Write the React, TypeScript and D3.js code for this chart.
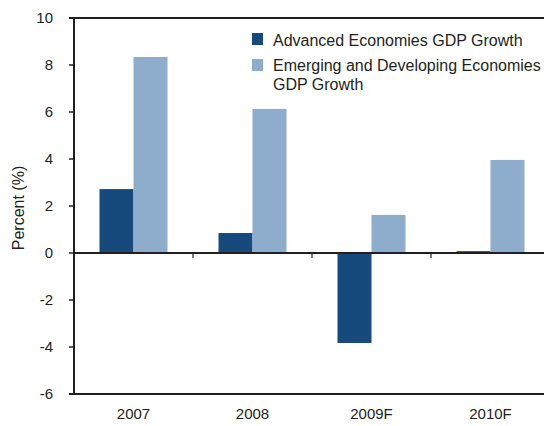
import React from "react";
import * as d3 from "d3";

const categories = ["2007", "2008", "2009F", "2010F"];
const advanced = [2.72, 0.85, -3.83, 0.08];
const emerging = [8.34, 6.13, 1.62, 3.96];
const yTicks = [10, 8, 6, 4, 2, 0, -2, -4, -6];
const seriesNames = ["Advanced Economies GDP Growth", "Emerging and Developing Economies", "GDP Growth"];

const W = 544, H = 426;
const left = 74, right = 550, top = 18, bottom = 394;
const dark = "#174A7C", light = "#8EACCB", ink = "#231F20";

export default function App() {
  const x = d3.scaleBand().domain(categories).range([left, right]);
  const y = d3.scaleLinear().domain([-6, 10]).range([bottom, top]);
  const barW = 34;
  const font = "Liberation Sans, Arial, Helvetica, sans-serif";
  return (
    <svg width={W} height={H} style={{ position: "absolute", left: 0, top: 0 }} fontFamily={font}>
      <rect width={W} height={H} fill="#fff" />
      {categories.map((c, i) => {
        const cx = (x(c) as number) + x.bandwidth() / 2;
        const a = advanced[i], e = emerging[i];
        return (
          <g key={c}>
            <rect x={cx - barW} y={Math.min(y(a), y(0))} width={barW} height={Math.abs(y(a) - y(0))} fill={dark} />
            <rect x={cx} y={Math.min(y(e), y(0))} width={barW} height={Math.abs(y(e) - y(0))} fill={light} />
            <text x={cx} y={419} textAnchor="middle" fontSize={15} fill={ink}>{c}</text>
          </g>
        );
      })}
      <line x1={left} x2={W} y1={y(0)} y2={y(0)} stroke={ink} strokeWidth={2} />
      {categories.slice(1).map((c) => (
        <line key={c} x1={x(c) as number} x2={x(c) as number} y1={y(0)} y2={y(0) + 5} stroke={ink} strokeWidth={1.2} />
      ))}
      <line x1={69} x2={W} y1={top} y2={top} stroke={ink} strokeWidth={2} />
      <line x1={69} x2={W} y1={bottom} y2={bottom} stroke={ink} strokeWidth={2} />
      <line x1={left} x2={left} y1={top} y2={bottom} stroke={ink} strokeWidth={2} />
      {yTicks.map((t) => (
        <g key={t}>
          <line x1={69} x2={left} y1={y(t)} y2={y(t)} stroke={ink} strokeWidth={1.5} />
          <text x={53} y={y(t)} dy="0.36em" textAnchor="end" fontSize={15} fill={ink}>{t}</text>
        </g>
      ))}
      <text transform={`translate(24,208) rotate(-90)`} textAnchor="middle" fontSize={16} fill={ink}>Percent (%)</text>
      <rect x={252} y={33} width={11} height={12} fill={dark} />
      <text x={273} y={46} fontSize={16} fill={ink}>{seriesNames[0]}</text>
      <rect x={252} y={59} width={11} height={12} fill={light} />
      <text x={273} y={71} fontSize={16} fill={ink}>{seriesNames[1]}</text>
      <text x={273} y={90} fontSize={16} fill={ink}>{seriesNames[2]}</text>
    </svg>
  );
}
